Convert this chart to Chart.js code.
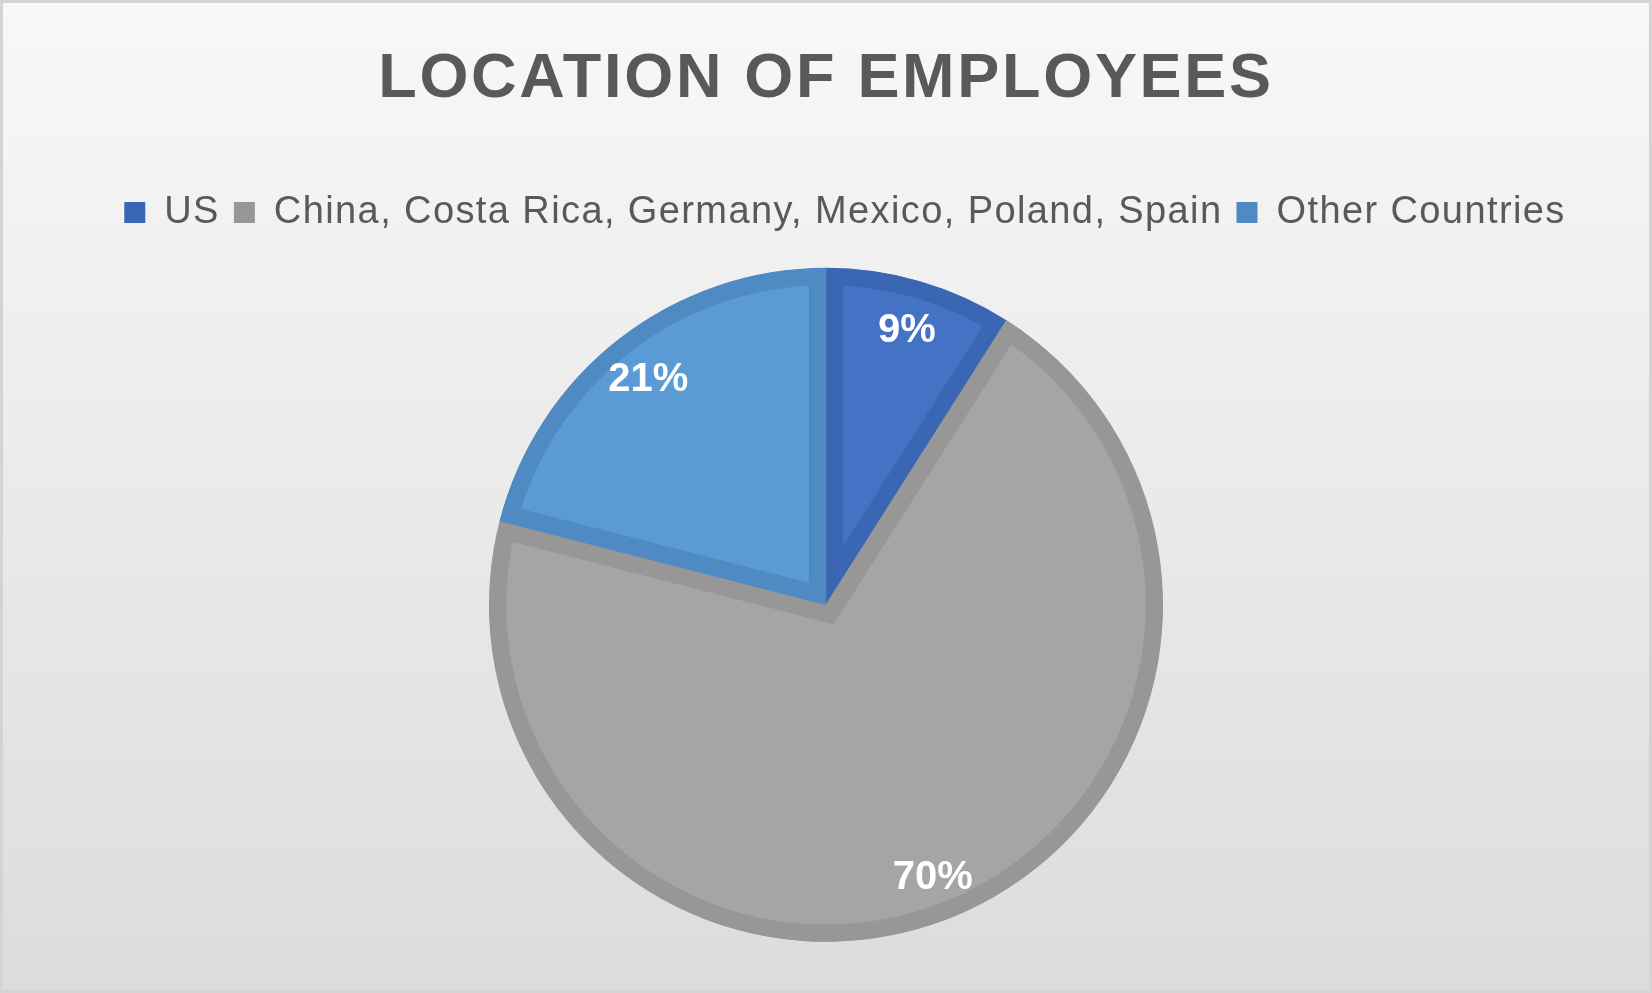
<!DOCTYPE html>
<html>
<head>
<title>Location of employees</title>
<script src="https://cdn.jsdelivr.net/npm/chart.js@4.4.1/dist/chart.umd.min.js"></script>
<style>
    html, body { margin:0; padding:0; background:#fff; }
    #box { width:1652px; height:993px; }
</style>
</head>
<body>
<div id="box"><canvas id="myChart" width="1652" height="993"></canvas></div>
<script>
const chartTitle = 'LOCATION OF EMPLOYEES';
const countries = ['US', 'China, Costa Rica, Germany, Mexico, Poland, Spain', 'Other Countries'];
const shares = [9, 70, 21];
const fillColors = ['#4472C4', '#A5A5A5', '#5B9BD5'];
const edgeColors = ['#3B66B3', '#979797', '#508AC2'];

const FONT = "'Liberation Sans', Arial, sans-serif";
const TITLE_SPACING = '2.7px';
const LEGEND_SPACING = '1.4px';
const LEGEND_SHIFT = 19;

// background gradient + thin frame, like the excel chart area
const bgPlugin = {
    id: 'bg',
    beforeLayout(chart) {
        chart.ctx.letterSpacing = LEGEND_SPACING;
    },
    afterLayout(chart) {
        // legend in the original sits a bit right of centre
        chart.legend.left += LEGEND_SHIFT;
        chart.legend.right += LEGEND_SHIFT;
        const tb = chart.titleBlock;
        if (!tb._spaced) {
            const draw = tb.draw.bind(tb);
            tb.draw = function() {
                chart.ctx.letterSpacing = TITLE_SPACING;
                draw();
                chart.ctx.letterSpacing = LEGEND_SPACING;
            };
            tb._spaced = true;
        }
    },
    beforeDraw(chart) {
        const ctx = chart.ctx;
        const w = chart.width, h = chart.height;
        const g = ctx.createLinearGradient(0, 0, 0, h);
        g.addColorStop(0, '#F8F8F8');
        g.addColorStop(1, '#DCDCDC');
        ctx.save();
        ctx.fillStyle = g;
        ctx.fillRect(0, 0, w, h);
        ctx.strokeStyle = '#D4D4D4';
        ctx.lineWidth = 3;
        ctx.strokeRect(1.5, 1.5, w - 3, h - 3);
        ctx.restore();
        ctx.letterSpacing = LEGEND_SPACING;
    }
};

// percent labels inside the slices
const pctPlugin = {
    id: 'pct',
    afterDatasetsDraw(chart) {
        const ctx = chart.ctx;
        const meta = chart.getDatasetMeta(0);
        ctx.save();
        ctx.letterSpacing = '0px';
        ctx.font = 'bold 40px ' + FONT;
        ctx.fillStyle = '#FFFFFF';
        ctx.textAlign = 'center';
        ctx.textBaseline = 'middle';
        meta.data.forEach(function(arc, i) {
            const p = arc.getProps(['x', 'y', 'startAngle', 'endAngle', 'outerRadius'], true);
            const mid = (p.startAngle + p.endAngle) / 2;
            const r = p.outerRadius * 0.86;
            ctx.fillText(shares[i] + '%', p.x + Math.cos(mid) * r, p.y + Math.sin(mid) * r + 4);
        });
        ctx.restore();
    }
};

const ctx = document.getElementById('myChart').getContext('2d');
const myChart = new Chart(ctx, {
    type: 'pie',
    data: {
        labels: countries,
        datasets: [{
            data: shares,
            backgroundColor: fillColors,
            borderColor: edgeColors,
            borderWidth: 17,
            borderAlign: 'inner',
            borderJoinStyle: 'miter',
            hoverOffset: 0
        }]
    },
    options: {
        responsive: false,
        devicePixelRatio: 1,
        animation: false,
        radius: 337,
        layout: { padding: { bottom: 25 } },
        plugins: {
            tooltip: { enabled: false },
            title: {
                display: true,
                text: chartTitle,
                color: '#595959',
                font: { family: FONT, size: 63, weight: 'bold', lineHeight: 1.2 },
                padding: { top: 42, bottom: 62 }
            },
            legend: {
                position: 'top',
                labels: {
                    color: '#595959',
                    font: { family: FONT, size: 38 },
                    boxWidth: 21,
                    boxHeight: 21,
                    padding: 14,
                    generateLabels: function(chart) {
                        const items = Chart.overrides.pie.plugins.legend.labels.generateLabels(chart);
                        items.forEach(function(it, i) {
                            it.fillStyle = edgeColors[i];
                            it.lineWidth = 0;
                            it.strokeStyle = edgeColors[i];
                        });
                        return items;
                    }
                }
            }
        }
    },
    plugins: [bgPlugin, pctPlugin]
});
</script>
</body>
</html>
